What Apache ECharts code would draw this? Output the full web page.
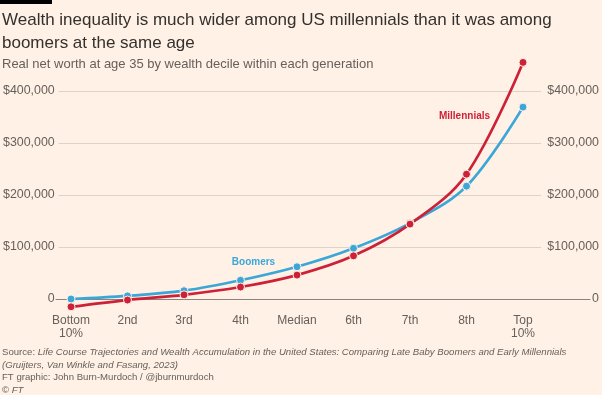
<!DOCTYPE html>
<html>
<head>
<meta charset="utf-8">
<script src="https://cdn.jsdelivr.net/npm/echarts@6/dist/echarts.min.js"></script>
<style>
html,body{margin:0;padding:0;background:#fff1e5;}
#c{width:602px;height:395px;}
</style>
</head>
<body>
<div id="c"></div>
<script>
const categories = ['Bottom\n10%', '2nd', '3rd', '4th', 'Median', '6th', '7th', '8th', 'Top\n10%'];
const boomers = [0, 6000, 16000, 36000, 62000, 97500, 146000, 217000, 369000];
const millennials = [-15000, -2000, 8000, 23000, 46000, 83000, 144000, 240000, 455000];
const yTicks = { min: -100000, max: 500000, interval: 100000 };

const FONT = '"Liberation Sans", Arial, sans-serif';
const BLUE = '#3ba7d9';
const RED = '#cc2137';
const GREY = '#66605c';

function fmt(v) {
  if (v === 0) return '0';
  return '$' + v.toLocaleString('en-US');
}

const chart = echarts.init(document.getElementById('c'), null, { renderer: 'canvas' });
const yBase = { type: 'value', min: yTicks.min, max: yTicks.max, interval: yTicks.interval };

chart.setOption({
  backgroundColor: '#fff1e5',
  animation: false,
  textStyle: { fontFamily: FONT },
  graphic: [{ type: 'rect', left: 0, top: 0, shape: { width: 52, height: 4 }, style: { fill: '#000' } }],
  title: [
    {
      text: 'Wealth inequality is much wider among US millennials than it was among\nboomers at the same age',
      left: 2, top: 9, padding: 0,
      textStyle: { fontFamily: FONT, fontSize: 17, fontWeight: 'normal', color: '#33302e', lineHeight: 22.6 }
    },
    {
      text: 'Real net worth at age 35 by wealth decile within each generation',
      left: 2, top: 57, padding: 0,
      textStyle: { fontFamily: FONT, fontSize: 13, fontWeight: 'normal', color: GREY, lineHeight: 15 }
    },
    {
      text: '{n|Source: }{i|Life Course Trajectories and Wealth Accumulation in the United States: Comparing Late Baby Boomers and Early Millennials}\n{i|(Gruijters, Van Winkle and Fasang, 2023)}\n{n|FT graphic: John Burn-Murdoch / @jburnmurdoch}\n{n|© }{i|FT}',
      left: 2, top: 346, padding: 0,
      textStyle: {
        fontFamily: FONT, fontSize: 9.6, fontWeight: 'normal', color: GREY, lineHeight: 12.6,
        rich: {
          n: { fontFamily: FONT, fontSize: 9.6, fontWeight: 'normal', color: GREY, lineHeight: 12.6 },
          i: { fontFamily: FONT, fontSize: 9.6, fontWeight: 'normal', color: GREY, lineHeight: 12.6, fontStyle: 'italic' }
        }
      }
    }
  ],
  grid: [
    { left: 71, right: 79, top: 39, bottom: 44 },
    { left: 57, right: 60, top: 39, bottom: 44 },
    { left: 56, right: 12, top: 39, bottom: 44 },
    { left: 71, right: 79, top: 39, bottom: 96 }
  ],
  xAxis: [
    {
      gridIndex: 0, type: 'category', data: categories, boundaryGap: false,
      axisLine: { show: false }, axisTick: { show: false }, axisLabel: { show: false }
    },
    { gridIndex: 1, type: 'value', min: 0, max: 1, show: false },
    {
      gridIndex: 2, type: 'value', min: 0, max: 1,
      axisLine: { show: true, onZero: true, lineStyle: { color: '#8a837e', width: 1 } },
      axisTick: { show: false }, axisLabel: { show: false }, splitLine: { show: false }
    },
    {
      gridIndex: 3, type: 'category', data: categories, boundaryGap: false, position: 'bottom',
      axisLine: { show: false, onZero: false }, axisTick: { show: false },
      axisLabel: { color: GREY, fontSize: 12, margin: 15, lineHeight: 13, interval: 0, fontFamily: FONT }
    }
  ],
  yAxis: [
    Object.assign({ gridIndex: 0, show: false }, yBase),
    Object.assign({
      gridIndex: 1, position: 'left',
      axisLine: { show: false }, axisTick: { show: false },
      axisLabel: { color: GREY, fontSize: 12.4, margin: 4, formatter: fmt, fontFamily: FONT, showMinLabel: false, showMaxLabel: false },
      splitLine: { show: true, showMinLine: false, showMaxLine: false, lineStyle: { color: '#ddd2c8', width: 1 } }
    }, yBase),
    Object.assign({
      gridIndex: 1, position: 'right',
      axisLine: { show: false }, axisTick: { show: false },
      axisLabel: { color: GREY, fontSize: 12.4, margin: 58, align: 'right', formatter: fmt, fontFamily: FONT, showMinLabel: false, showMaxLabel: false },
      splitLine: { show: false }
    }, yBase),
    Object.assign({ gridIndex: 2, show: false }, yBase),
    { gridIndex: 3, type: 'value', min: 0, max: 1, show: false }
  ],
  series: [
    {
      name: 'Boomers', type: 'line', xAxisIndex: 0, yAxisIndex: 0, data: boomers,
      smooth: 0.35, symbol: 'circle', symbolSize: 8,
      lineStyle: { color: BLUE, width: 2.7 },
      itemStyle: { color: BLUE, borderColor: '#fff1e5', borderWidth: 1 },
      markPoint: {
        symbol: 'circle', symbolSize: 0,
        label: { show: true, position: 'inside', color: BLUE, fontWeight: 'bold', fontSize: 10, fontFamily: FONT },
        data: [{ coord: ['4th', 69800], value: 'Boomers', label: { formatter: 'Boomers', offset: [13, 0] } }]
      }
    },
    {
      name: 'Millennials', type: 'line', xAxisIndex: 0, yAxisIndex: 0, data: millennials,
      smooth: 0.35, symbol: 'circle', symbolSize: 8,
      lineStyle: { color: RED, width: 2.7 },
      itemStyle: { color: RED, borderColor: '#fff1e5', borderWidth: 1 },
      markPoint: {
        symbol: 'circle', symbolSize: 0,
        label: { show: true, position: 'inside', color: RED, fontWeight: 'bold', fontSize: 10, fontFamily: FONT },
        data: [{ coord: ['8th', 350600], value: 'Millennials', label: { formatter: 'Millennials', offset: [-2, 0] } }]
      }
    }
  ]
});
</script>
</body>
</html>
